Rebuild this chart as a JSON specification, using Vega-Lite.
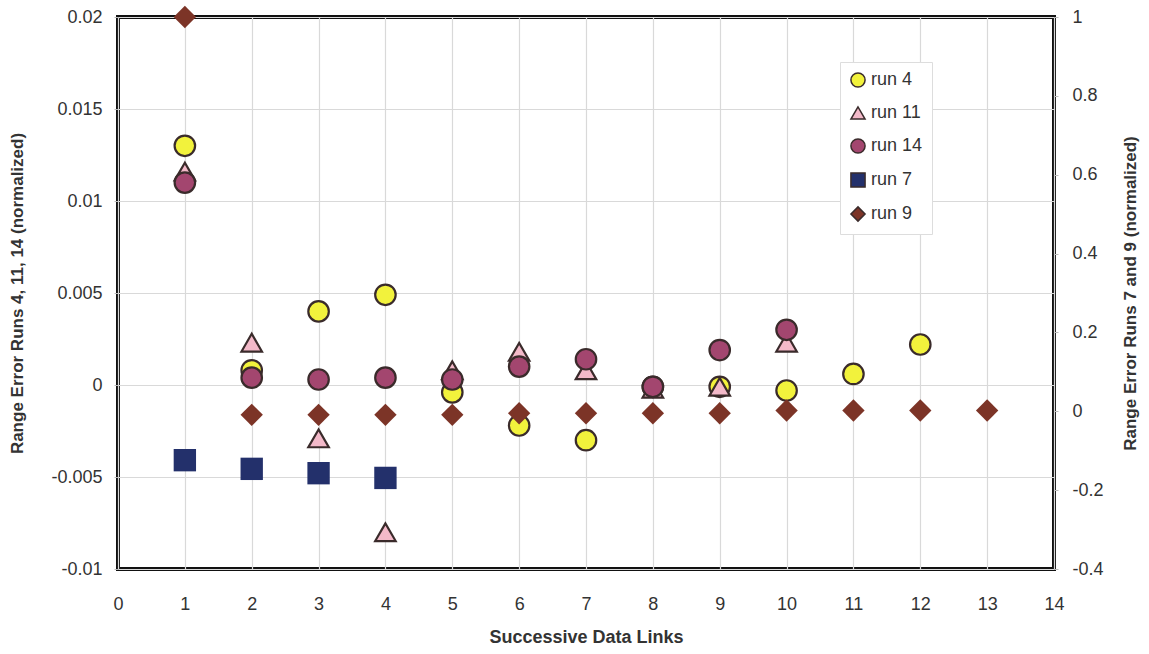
{
  "$schema": "https://vega.github.io/schema/vega-lite/v6.json",
  "autosize": {"type": "none"},
  "width": 936,
  "height": 552,
  "padding": {"left": 118, "top": 17, "right": 95, "bottom": 85},
  "background": "white",
  "config": {
    "font": "Liberation Sans",
    "view": {"stroke": "#111111", "strokeWidth": 4},
    "axis": {
      "labelFont": "Liberation Sans",
      "labelFontSize": 18,
      "labelColor": "#333333",
      "titleFont": "Liberation Sans",
      "titleFontSize": 17,
      "titleFontWeight": "bold",
      "titleColor": "#333333",
      "domain": false,
      "tickColor": "#bbbbbb",
      "tickSize": 4,
      "gridColor": "#d9d9d9",
      "gridWidth": 1.2,
      "labelOverlap": false,
      "labelFlush": false
    },
    "legend": {
      "labelFont": "Liberation Sans",
      "labelFontSize": 18,
      "labelColor": "#333333"
    }
  },
  "datasets": {
    "left": [
      {"link": 1, "series": "run 4", "value": 0.0130},
      {"link": 2, "series": "run 4", "value": 0.0008},
      {"link": 3, "series": "run 4", "value": 0.0040},
      {"link": 4, "series": "run 4", "value": 0.0049},
      {"link": 5, "series": "run 4", "value": -0.0004},
      {"link": 6, "series": "run 4", "value": -0.0022},
      {"link": 7, "series": "run 4", "value": -0.0030},
      {"link": 8, "series": "run 4", "value": -0.0001},
      {"link": 9, "series": "run 4", "value": -0.0001},
      {"link": 10, "series": "run 4", "value": -0.0003},
      {"link": 11, "series": "run 4", "value": 0.0006},
      {"link": 12, "series": "run 4", "value": 0.0022},
      {"link": 1, "series": "run 11", "value": 0.0116},
      {"link": 2, "series": "run 11", "value": 0.0023},
      {"link": 3, "series": "run 11", "value": -0.0029},
      {"link": 4, "series": "run 11", "value": -0.0080},
      {"link": 5, "series": "run 11", "value": 0.0008},
      {"link": 6, "series": "run 11", "value": 0.0018},
      {"link": 7, "series": "run 11", "value": 0.0008},
      {"link": 8, "series": "run 11", "value": -0.0002},
      {"link": 9, "series": "run 11", "value": -0.0001},
      {"link": 10, "series": "run 11", "value": 0.0023},
      {"link": 1, "series": "run 14", "value": 0.0110},
      {"link": 2, "series": "run 14", "value": 0.0004},
      {"link": 3, "series": "run 14", "value": 0.0003},
      {"link": 4, "series": "run 14", "value": 0.0004},
      {"link": 5, "series": "run 14", "value": 0.0003},
      {"link": 6, "series": "run 14", "value": 0.0010},
      {"link": 7, "series": "run 14", "value": 0.0014},
      {"link": 8, "series": "run 14", "value": -0.0001},
      {"link": 9, "series": "run 14", "value": 0.0019},
      {"link": 10, "series": "run 14", "value": 0.0030}
    ],
    "right": [
      {"link": 1, "series": "run 7", "value": -0.124},
      {"link": 2, "series": "run 7", "value": -0.146},
      {"link": 3, "series": "run 7", "value": -0.157},
      {"link": 4, "series": "run 7", "value": -0.169},
      {"link": 1, "series": "run 9", "value": 1.0},
      {"link": 2, "series": "run 9", "value": -0.009},
      {"link": 3, "series": "run 9", "value": -0.009},
      {"link": 4, "series": "run 9", "value": -0.009},
      {"link": 5, "series": "run 9", "value": -0.009},
      {"link": 6, "series": "run 9", "value": -0.005},
      {"link": 7, "series": "run 9", "value": -0.005},
      {"link": 8, "series": "run 9", "value": -0.005},
      {"link": 9, "series": "run 9", "value": -0.005},
      {"link": 10, "series": "run 9", "value": 0.002},
      {"link": 11, "series": "run 9", "value": 0.002},
      {"link": 12, "series": "run 9", "value": 0.002},
      {"link": 13, "series": "run 9", "value": 0.002}
    ]
  },
  "encoding": {
    "x": {
      "field": "link",
      "type": "quantitative",
      "scale": {"domain": [0, 14], "nice": false, "zero": false},
      "axis": {
        "title": "Successive Data Links",
        "titleFontSize": 18,
        "titlePadding": 15,
        "values": [0, 1, 2, 3, 4, 5, 6, 7, 8, 9, 10, 11, 12, 13, 14],
        "labelPadding": 26,
        "ticks": false,
        "grid": true
      }
    },
    "color": {
      "field": "series",
      "type": "nominal",
      "scale": {
        "domain": ["run 4", "run 11", "run 14", "run 7", "run 9"],
        "range": ["#f2f23c", "#f3b9c9", "#a3466f", "#23306b", "#7c3427"]
      },
      "legend": {
        "title": null,
        "orient": "none",
        "legendX": 722,
        "legendY": 45,
        "fillColor": "white",
        "strokeColor": "#dddddd",
        "padding": 9,
        "rowPadding": 12,
        "symbolSize": 200,
        "symbolStrokeWidth": 1.5,
        "labelOffset": 4
      }
    },
    "shape": {
      "field": "series",
      "type": "nominal",
      "scale": {
        "domain": ["run 4", "run 11", "run 14", "run 7", "run 9"],
        "range": ["circle", "triangle-up", "circle", "square", "diamond"]
      },
      "legend": null
    }
  },
  "layer": [
    {
      "data": {"name": "left"},
      "mark": {"type": "point", "filled": true, "size": 420, "stroke": "#3a2b2b", "strokeWidth": 2.2, "opacity": 1},
      "encoding": {
        "y": {
          "field": "value",
          "type": "quantitative",
          "scale": {"domain": [-0.01, 0.02], "nice": false, "zero": false},
          "axis": {
            "orient": "left",
            "title": "Range Error Runs 4, 11, 14 (normalized)",
            "values": [-0.01, -0.005, 0, 0.005, 0.01, 0.015, 0.02],
            "labelExpr": "replace(format(datum.value, ''), '\u2212', '-')",
            "labelPadding": 12,
            "titlePadding": 24,
            "grid": true
          }
        }
      }
    },
    {
      "data": {"name": "right"},
      "mark": {"type": "point", "filled": true, "size": 500, "strokeWidth": 0, "opacity": 1},
      "encoding": {
        "y": {
          "field": "value",
          "type": "quantitative",
          "scale": {"domain": [-0.4, 1], "nice": false, "zero": false},
          "axis": {
            "orient": "right",
            "title": "Range Error Runs 7 and 9 (normalized)",
            "titleAngle": 270,
            "values": [-0.4, -0.2, 0, 0.2, 0.4, 0.6, 0.8, 1],
            "labelExpr": "replace(format(datum.value, ''), '\u2212', '-')",
            "labelPadding": 14,
            "titlePadding": 36,
            "grid": false
          }
        }
      }
    }
  ],
  "resolve": {"scale": {"y": "independent"}, "axis": {"y": "independent"}}
}
